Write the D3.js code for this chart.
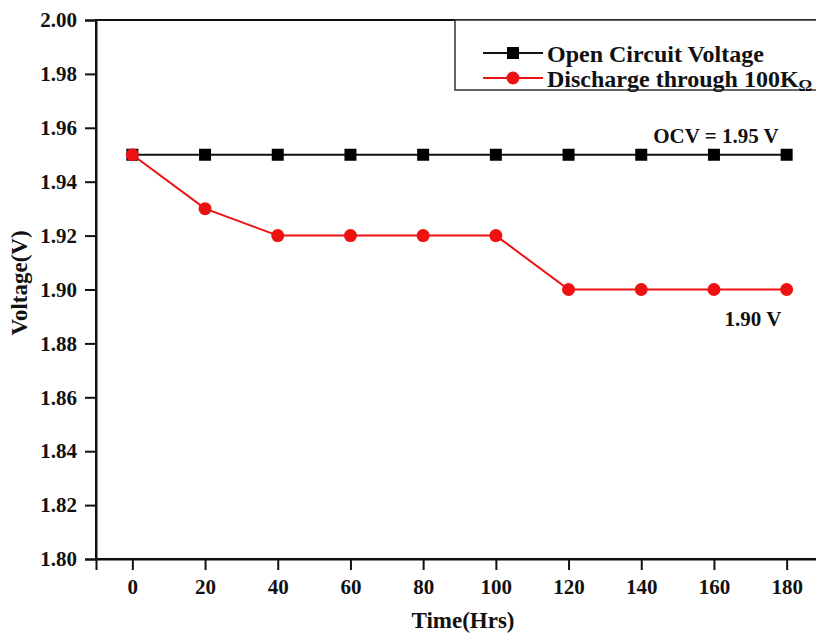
<!DOCTYPE html>
<html>
<head>
<meta charset="utf-8">
<script src="https://cdn.jsdelivr.net/npm/d3@7"></script>
<style>
  html, body { margin: 0; padding: 0; background: #fff; }
  svg { display: block; }
  text { font-family: "Liberation Serif", "Times New Roman", serif; font-weight: bold; fill: #111; }
</style>
</head>
<body>
<svg id="chart" width="816" height="635"></svg>
<script>
// Time in hours and measured voltages
const hours = [0, 20, 40, 60, 80, 100, 120, 140, 160, 180];
const ocvVolts = [1.95, 1.95, 1.95, 1.95, 1.95, 1.95, 1.95, 1.95, 1.95, 1.95];
const dischargeVolts = [1.95, 1.93, 1.92, 1.92, 1.92, 1.92, 1.90, 1.90, 1.90, 1.90];
const xTicks = [0, 20, 40, 60, 80, 100, 120, 140, 160, 180];
const yTicks = [1.80, 1.82, 1.84, 1.86, 1.88, 1.90, 1.92, 1.94, 1.96, 1.98, 2.00];
const seriesNames = ["Open Circuit Voltage", "Discharge through 100K"];
const ocvNote = "OCV = 1.95 V";
const endNote = "1.90 V";

const svg = d3.select("#chart");
const plotLeft = 96, plotTop = 20, plotBottom = 559, plotRight = 823;
const red = "#ee1111";

const x = d3.scaleLinear().domain([-10, 190]).range([plotLeft, plotRight]);
const y = d3.scaleLinear().domain([1.80, 2.00]).range([plotBottom, plotTop]);

// Frame
svg.append("rect")
  .attr("x", plotLeft).attr("y", plotTop)
  .attr("width", plotRight - plotLeft).attr("height", plotBottom - plotTop)
  .attr("fill", "none").attr("stroke", "#111").attr("stroke-width", 2);

// Axes
const xAxis = svg.append("g").attr("transform", `translate(0,${plotBottom})`)
  .call(d3.axisBottom(x).tickValues(xTicks).tickSize(11).tickPadding(9).tickFormat(d3.format("d")));
const yAxis = svg.append("g").attr("transform", `translate(${plotLeft},0)`)
  .call(d3.axisLeft(y).tickValues(yTicks).tickSize(11).tickPadding(8).tickFormat(d3.format(".2f")));
[xAxis, yAxis].forEach(g => {
  g.select(".domain").attr("stroke", "#111").attr("stroke-width", 2);
  g.selectAll(".tick line").attr("stroke", "#111").attr("stroke-width", 2);
  g.selectAll(".tick text").attr("font-size", 21).attr("fill", "#111")
    .attr("font-family", "Liberation Serif, Times New Roman, serif").attr("font-weight", "bold");
});

// Axis titles
svg.append("text").attr("x", 463).attr("y", 628).attr("text-anchor", "middle")
  .attr("font-size", 23).text("Time(Hrs)");
svg.append("text").attr("transform", "translate(27,283) rotate(-90)")
  .attr("text-anchor", "middle").attr("font-size", 23).text("Voltage(V)");

const line = d3.line().x(d => x(d[0])).y(d => y(d[1]));

// Open circuit series
const ocvPts = hours.map((h, i) => [h, ocvVolts[i]]);
svg.append("path").datum(ocvPts).attr("d", line)
  .attr("fill", "none").attr("stroke", "#111").attr("stroke-width", 2);
svg.selectAll(".sq").data(ocvPts).join("rect")
  .attr("x", d => x(d[0]) - 6).attr("y", d => y(d[1]) - 6)
  .attr("width", 12).attr("height", 12).attr("fill", "#000");

// Discharge series
const disPts = hours.map((h, i) => [h, dischargeVolts[i]]);
svg.append("path").datum(disPts).attr("d", line)
  .attr("fill", "none").attr("stroke", red).attr("stroke-width", 2);
svg.selectAll(".dot").data(disPts).join("circle")
  .attr("cx", d => x(d[0])).attr("cy", d => y(d[1])).attr("r", 6.5).attr("fill", red);

// Annotations
svg.append("text").attr("x", 716).attr("y", 143).attr("text-anchor", "middle")
  .attr("font-size", 21).text(ocvNote);
svg.append("text").attr("x", 753).attr("y", 326).attr("text-anchor", "middle")
  .attr("font-size", 21).text(endNote);

// Legend
const lg = svg.append("g");
lg.append("rect").attr("x", 455).attr("y", plotTop).attr("width", plotRight - 455).attr("height", 70)
  .attr("fill", "#fff").attr("stroke", "#333").attr("stroke-width", 1.5);
const rows = [
  { name: seriesNames[0], color: "#111", shape: "square", cy: 53 },
  { name: seriesNames[1], color: red, shape: "circle", cy: 78 }
];
rows.forEach(r => {
  lg.append("line").attr("x1", 483).attr("x2", 543).attr("y1", r.cy).attr("y2", r.cy)
    .attr("stroke", r.color).attr("stroke-width", 2);
  if (r.shape === "square") {
    lg.append("rect").attr("x", 507).attr("y", r.cy - 6).attr("width", 12).attr("height", 12).attr("fill", "#000");
  } else {
    lg.append("circle").attr("cx", 513).attr("cy", r.cy).attr("r", 6.5).attr("fill", red);
  }
  const t = lg.append("text").attr("x", 547).attr("y", r.cy + 9).attr("font-size", 24).text(r.name);
  if (r.shape === "circle") {
    t.append("tspan").attr("font-size", 17).attr("dy", 4).text("Ω");
  }
});
</script>
</body>
</html>
